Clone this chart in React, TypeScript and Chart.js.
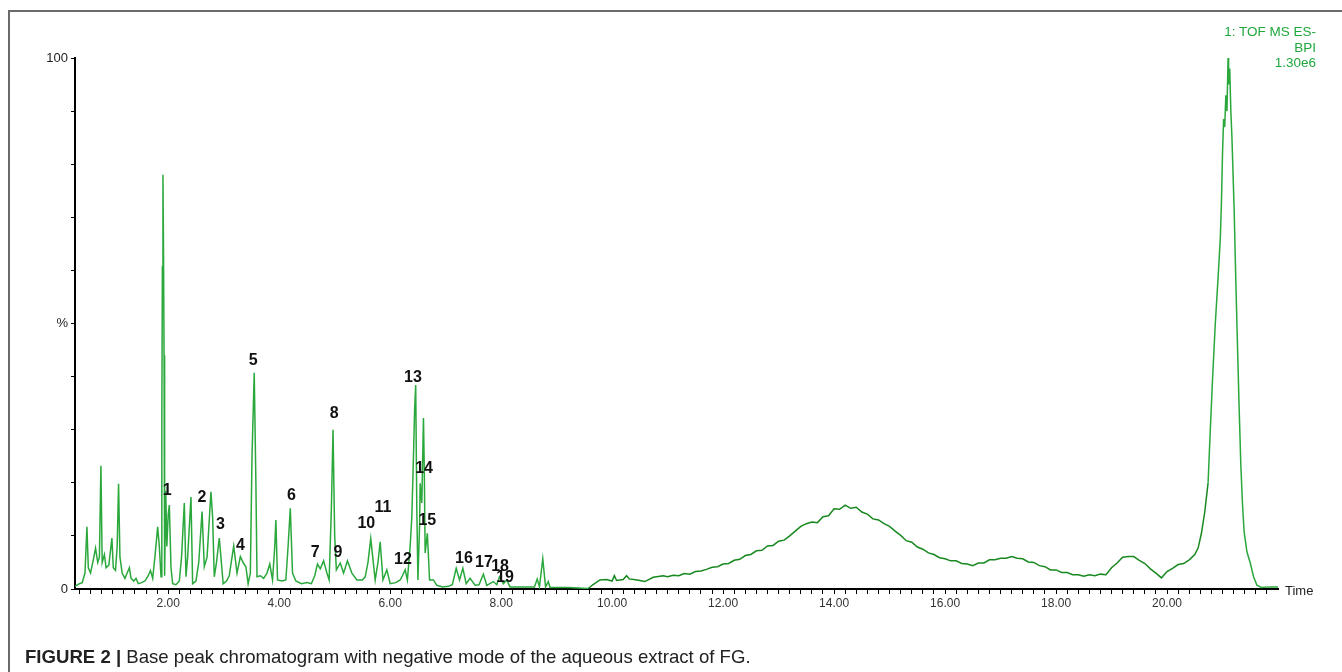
import React, { useEffect, useRef } from "react";
import { Chart, registerables } from "chart.js";

Chart.register(...registerables);

// Retention time (min) and relative intensity (%)
const times = [
  0.32, 0.4, 0.45, 0.5, 0.535, 0.56, 0.6, 0.65, 0.69, 0.73, 0.76, 0.787, 0.81, 0.85, 0.88, 0.93, 0.985, 1.01, 1.05, 1.08, 1.105, 1.13, 1.17, 1.22, 1.26, 1.3, 1.33, 1.38, 1.42, 1.46, 1.52, 1.58, 1.64, 1.68, 1.72, 1.76, 1.81, 1.84, 1.87,
  1.885, 1.895, 1.905, 1.915, 1.925, 1.935, 1.955, 1.975, 2.0, 2.02, 2.05, 2.08, 2.14, 2.2, 2.24, 2.29, 2.32, 2.35, 2.41, 2.44, 2.5, 2.55, 2.61, 2.65, 2.7, 2.77, 2.8, 2.83, 2.87, 2.92, 2.95, 2.99,
  3.05, 3.1, 3.18, 3.24, 3.3, 3.36, 3.4, 3.44, 3.48, 3.51, 3.55, 3.58, 3.6, 3.66, 3.72, 3.78, 3.83, 3.88, 3.92, 3.94, 3.97, 4.05, 4.12, 4.16, 4.2, 4.24, 4.3, 4.4, 4.5, 4.58, 4.64, 4.69, 4.74, 4.8, 4.86, 4.9, 4.94, 4.97,
  5.0, 5.03, 5.1, 5.16, 5.23, 5.31, 5.4, 5.5, 5.55, 5.6, 5.65, 5.73, 5.78, 5.82, 5.87, 5.94, 6.0, 6.1, 6.18, 6.22, 6.27, 6.31, 6.36, 6.39, 6.42, 6.44, 6.46, 6.48, 6.5, 6.53, 6.54, 6.57, 6.6, 6.615, 6.63, 6.67, 6.71, 6.78, 6.84, 6.95,
  7.05, 7.12, 7.19, 7.25, 7.31, 7.37, 7.44, 7.53, 7.6, 7.68, 7.74, 7.86, 7.92, 7.97, 8.04, 8.1, 8.16, 8.4, 8.6, 8.65, 8.69, 8.75, 8.8, 8.85, 8.88, 9.2, 9.57, 9.65, 9.78, 9.9, 10.0, 10.04, 10.08, 10.2, 10.26, 10.31, 10.45, 10.59, 10.74, 10.92,
  11.0, 11.1, 11.2, 11.3, 11.4, 11.5, 11.6, 11.7, 11.8, 11.9, 12.0, 12.1, 12.2, 12.3, 12.4, 12.5, 12.6, 12.7, 12.8, 12.9, 13.0, 13.1, 13.2, 13.3, 13.4, 13.5, 13.6, 13.7, 13.8, 13.9,
  14.0, 14.1, 14.2, 14.3, 14.4, 14.5, 14.6, 14.7, 14.8, 14.9, 15.0, 15.1, 15.2, 15.3, 15.4, 15.5, 15.6, 15.7, 15.8, 15.9, 16.0, 16.1, 16.2, 16.3, 16.4, 16.5, 16.6, 16.7, 16.8, 16.9,
  17.0, 17.1, 17.2, 17.3, 17.4, 17.5, 17.6, 17.7, 17.8, 17.9, 18.0, 18.1, 18.2, 18.3, 18.4, 18.5, 18.6, 18.7, 18.8, 18.9, 19.0, 19.1, 19.2, 19.3, 19.4, 19.5, 19.6, 19.7, 19.8, 19.9,
  20.0, 20.1, 20.2, 20.3, 20.4, 20.5, 20.56, 20.62, 20.68, 20.74, 20.78, 20.82, 20.87, 20.92, 20.96, 20.98, 21.0, 21.02, 21.04, 21.06, 21.08, 21.1, 21.11, 21.13, 21.15, 21.17, 21.21, 21.24, 21.27, 21.3, 21.33, 21.36, 21.39, 21.44, 21.5, 21.56, 21.62, 21.7, 21.85, 22.0,
];

const intensities = [
  0.5, 1.0, 1.2, 3.0, 11.7, 4.0, 3.0, 5.5, 7.7, 5.0, 6.0, 23.2, 5.0, 6.5, 4.0, 4.5, 9.6, 4.0, 3.5, 8.0, 19.8, 6.0, 3.0, 2.0, 3.0, 4.0, 2.0, 1.5, 2.0, 1.0, 1.2, 1.5, 2.5, 3.5, 2.0, 6.0, 11.7, 8.0, 2.3,
  32, 60.7, 78, 64, 44, 2.5, 18.5, 8, 14, 15.8, 4, 1.0, 0.8, 1.5, 6, 16.2, 2.3, 6, 17.3, 1.0, 1.5, 5, 14.6, 4.2, 6, 18.3, 13.6, 2.3, 5, 9.6, 6, 1.0,
  1.5, 2.5, 8.1, 3.0, 6.1, 4.8, 4.2, 1.0, 3, 25, 40.7, 20, 2.3, 2.5, 2.0, 3.0, 4.7, 1.7, 8, 13, 1.7, 1.5, 1.7, 8, 15.2, 3, 1.5, 1.0, 1.2, 1.0, 2.5, 4.7, 3.8, 5.3, 3, 1.7, 15, 30,
  10, 3.6, 4.9, 3, 5.3, 3, 1.7, 1.7, 2.3, 5, 9.5, 1.7, 5, 8.9, 1.7, 3.6, 1.0, 1.2, 1.7, 2.5, 3.6, 1.7, 8, 13.6, 25, 33.7, 38.4, 15, 1.7, 12, 19.9, 16.2, 32.2, 22.4, 6.8, 10.5, 1.7, 1.7, 0.7, 0.4,
  0.5, 0.8, 3.9, 1.7, 3.9, 1.0, 2.0, 0.7, 0.8, 2.8, 0.7, 1.4, 0.8, 2.3, 1.0, 1.7, 0.4, 0.4, 0.4, 1.9, 0.4, 5.7, 0.4, 1.4, 0.3, 0.3, 0.1, 0.8, 1.7, 1.8, 1.5, 2.5, 1.6, 1.8, 2.5, 1.9, 1.7, 1.4, 2.2, 2.5,
  2.3, 2.6, 2.5, 2.9, 2.8, 3.3, 3.4, 3.7, 4.1, 4.2, 4.7, 4.8, 5.4, 5.6, 6.3, 6.5, 7.2, 7.3, 8.1, 8.2, 9.0, 9.2, 10.0, 10.9, 11.8, 12.3, 12.6, 12.5, 13.6, 13.8,
  15.1, 15.0, 15.8, 15.2, 15.4, 14.5, 14.1, 13.2, 13.0, 12.3, 11.8, 10.9, 10.1, 9.1, 8.8, 7.9, 7.5, 6.8, 6.5, 5.9, 5.7, 5.3, 5.3, 4.8, 4.7, 4.4, 4.9, 4.9, 5.5, 5.5,
  5.8, 5.8, 6.1, 5.8, 5.7, 5.1, 5.0, 4.4, 4.2, 3.6, 3.6, 3.1, 3.1, 2.7, 2.7, 2.4, 2.7, 2.5, 2.8, 2.7, 4.0, 4.9, 6.0, 6.1, 6.1, 5.4, 4.8, 3.8, 3.0, 2.1,
  3.3, 3.9, 4.6, 4.8, 5.5, 6.5, 7.7, 10.5, 14.5, 20, 30, 39.4, 50, 58.6, 66, 72.5, 82, 88.5, 87, 93, 90, 100, 95, 98, 90, 85, 71.3, 58, 45.8, 34, 23.4, 16, 10.7, 7, 4.9, 2.3, 0.7, 0.3, 0.4, 0.4,
];

// Numbered peak annotations: label, retention time, label height (%)
const peakLabels = ["1", "2", "3", "4", "5", "6", "7", "8", "9", "10", "11", "12", "13", "14", "15", "16", "17", "18", "19"];
const peakLabelTimes = [1.98, 2.61, 2.94, 3.3, 3.53, 4.22, 4.65, 4.99, 5.06, 5.57, 5.87, 6.23, 6.41, 6.61, 6.67, 7.33, 7.69, 7.98, 8.07];
const peakLabelHeights = [18.6, 17.2, 12.1, 8.1, 43.1, 17.5, 6.8, 33.0, 6.8, 12.25, 15.3, 5.5, 39.9, 22.6, 12.8, 5.8, 4.9, 4.3, 2.2];

// Axis ranges and tick labels
const xMin = 0.32;
const xMax = 22.0;
const xMinorStep = 0.2;
const xLabelValues = [2, 4, 6, 8, 10, 12, 14, 16, 18, 20];
const yTickLabels: Record<number, string> = { 0: "0", 50: "%", 100: "100" };
const infoLines = ["1: TOF MS ES-", "BPI", "1.30e6"];

const PEAK_COLOR = "#2aa83c";
const HUMP_COLOR = "#17891f";

export default function App() {
  const canvasRef = useRef<HTMLCanvasElement | null>(null);

  useEffect(() => {
    if (!canvasRef.current) return;
    const labelPlugin = {
      id: "peakLabels",
      afterDatasetsDraw(chart: any) {
        const { ctx, scales, chartArea } = chart;
        ctx.save();
        ctx.fillStyle = "#111";
        ctx.font = "bold 16px Arial, 'Liberation Sans', sans-serif";
        ctx.textAlign = "center";
        ctx.textBaseline = "middle";
        peakLabels.forEach((lab, i) => {
          const px = scales.x.getPixelForValue(peakLabelTimes[i]);
          const py = scales.y.getPixelForValue(peakLabelHeights[i]);
          ctx.fillText(lab, px, py);
        });
        ctx.font = "13px Arial, 'Liberation Sans', sans-serif";
        ctx.textAlign = "left";
        ctx.fillStyle = "#222";
        ctx.fillText("Time", chartArea.right + 7, chartArea.bottom + 2);
        ctx.restore();
      },
    };

    const chart = new Chart(canvasRef.current, {
      type: "line",
      data: {
        datasets: [
          {
            data: times.map((t, i) => ({ x: t, y: intensities[i] })),
            borderColor: PEAK_COLOR,
            borderWidth: 1.5,
            pointRadius: 0,
            tension: 0,
            fill: false,
            segment: {
              borderColor: (c: any) =>
                c.p0.parsed.x > 9.5 && c.p0.parsed.x < 20.7 ? HUMP_COLOR : PEAK_COLOR,
            },
          },
        ],
      },
      options: {
        animation: false,
        responsive: false,
        devicePixelRatio: 1,
        layout: { padding: { left: 0, right: 64, top: 58, bottom: 0 } },
        plugins: { legend: { display: false }, tooltip: { enabled: false } },
        scales: {
          x: {
            type: "linear",
            min: xMin,
            max: xMax,
            afterFit: (s: any) => {
              s.height = 83;
            },
            afterBuildTicks: (s: any) => {
              const ticks = [];
              for (let v = 0.4; v <= xMax - 0.1; v += xMinorStep) {
                ticks.push({ value: Math.round(v * 10) / 10 });
              }
              s.ticks = ticks;
            },
            ticks: {
              autoSkip: false,
              maxRotation: 0,
              padding: 2,
              color: "#333",
              font: { family: "Arial, 'Liberation Sans', sans-serif", size: 12 },
              callback: (v: any) => {
                const n = Number(v);
                return xLabelValues.some((l) => Math.abs(l - n) < 1e-6) ? n.toFixed(2) : "";
              },
            },
            grid: { drawOnChartArea: false, tickLength: 5, color: "#000", tickWidth: 1 },
            border: { display: true, color: "#000", width: 2 },
          },
          y: {
            min: 0,
            max: 100,
            afterFit: (s: any) => {
              s.width = 75;
            },
            ticks: {
              stepSize: 10,
              autoSkip: false,
              padding: 3,
              color: "#222",
              font: { family: "Arial, 'Liberation Sans', sans-serif", size: 13 },
              callback: (v: any) => yTickLabels[Number(v)] ?? "",
            },
            grid: { drawOnChartArea: false, tickLength: 4, color: "#000", tickWidth: 1 },
            border: { display: true, color: "#000", width: 2 },
          },
        },
      },
      plugins: [labelPlugin],
    } as any);
    return () => chart.destroy();
  }, []);

  return (
    <div
      style={{
        position: "absolute",
        left: 0,
        top: 0,
        width: 1342,
        height: 672,
        overflow: "hidden",
        background: "#fff",
        fontFamily: "Arial, 'Liberation Sans', sans-serif",
      }}
    >
      <div
        style={{
          position: "absolute",
          left: 8,
          top: 10,
          width: 1400,
          height: 700,
          borderTop: "2px solid #6a6a6a",
          borderLeft: "2px solid #6a6a6a",
        }}
      />
      <canvas ref={canvasRef} width={1342} height={672} style={{ position: "absolute", left: 0, top: 0 }} />
      <div
        style={{
          position: "absolute",
          right: 26,
          top: 24,
          textAlign: "right",
          color: "#21a83e",
          fontSize: 13.5,
          lineHeight: "15.5px",
        }}
      >
        {infoLines.map((l) => (
          <div key={l}>{l}</div>
        ))}
      </div>
      <div
        style={{
          position: "absolute",
          left: 25,
          top: 646,
          fontSize: 18.6,
          lineHeight: "22px",
          color: "#222",
          whiteSpace: "nowrap",
        }}
      >
        <b>FIGURE 2 |</b> Base peak chromatogram with negative mode of the aqueous extract of FG.
      </div>
    </div>
  );
}
